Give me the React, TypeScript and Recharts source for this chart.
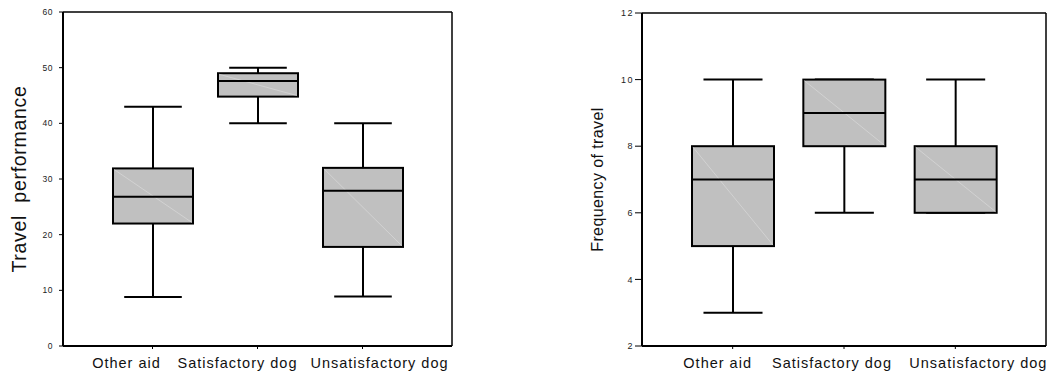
import React from 'react';
import { ComposedChart, Bar, XAxis, YAxis, CartesianGrid } from 'recharts';

const categories = ['Other aid', 'Satisfactory dog', 'Unsatisfactory dog'];

// Travel performance (left panel)
const perfMin = [8.8, 40, 8.9];
const perfQ1 = [22, 44.8, 17.8];
const perfMedian = [26.8, 47.6, 27.9];
const perfQ3 = [31.9, 49, 32];
const perfMax = [43, 50, 40];
const perfTicks = [0, 10, 20, 30, 40, 50, 60];

// Frequency of travel (right panel)
const freqMin = [3, 6, 6];
const freqQ1 = [5, 8, 6];
const freqMedian = [7, 9, 7];
const freqQ3 = [8, 10, 8];
const freqMax = [10, 10, 10];
const freqTicks = [2, 4, 6, 8, 10, 12];

const FONT = 'Arial, "Liberation Sans", sans-serif';

const buildRows = (mins: number[], q1s: number[], meds: number[], q3s: number[], maxs: number[]) =>
  categories.map((name, i) => ({ name, min: mins[i], q1: q1s[i], median: meds[i], q3: q3s[i], max: maxs[i] }));

const BoxShape = (props: any) => {
  const { x, y, width, height, payload } = props;
  const top = Math.min(y, y + height);
  const bottom = Math.max(y, y + height);
  const span = payload.max - payload.min;
  // map a value onto the bar's pixel range (bar spans min..max)
  const toY = (v: number) => (span === 0 ? top : bottom - ((v - payload.min) / span) * (bottom - top));
  const cx = x + width / 2;
  const capHalf = width * 0.36;
  const yQ1 = toY(payload.q1);
  const yQ3 = toY(payload.q3);
  const yMed = toY(payload.median);
  const sw = 2;
  return (
    <g>
      {/* whiskers */}
      {payload.max > payload.q3 && <line x1={cx} x2={cx} y1={top} y2={yQ3} stroke="#000" strokeWidth={sw} />}
      {payload.min < payload.q1 && <line x1={cx} x2={cx} y1={yQ1} y2={bottom} stroke="#000" strokeWidth={sw} />}
      <line x1={cx - capHalf} x2={cx + capHalf} y1={top} y2={top} stroke="#000" strokeWidth={sw} />
      <line x1={cx - capHalf} x2={cx + capHalf} y1={bottom} y2={bottom} stroke="#000" strokeWidth={sw} />
      {/* box */}
      <rect x={x} y={yQ3} width={width} height={yQ1 - yQ3} fill="#c0c0c0" stroke="#000" strokeWidth={sw} />
      <line x1={x + 1} y1={yQ3 + 1} x2={x + width - 1} y2={yQ1 - 1} stroke="#dedede" strokeWidth={0.6} />
      <line x1={x} x2={x + width} y1={yMed} y2={yMed} stroke="#000" strokeWidth={sw} />
    </g>
  );
};

const makeCatTick = (shifts: number[]) => (props: any) => {
  const { x, y, payload, index } = props;
  return (
    <text
      x={x + shifts[index]}
      y={y + 17}
      textAnchor="middle"
      fontFamily={FONT}
      fontSize={14.5}
      letterSpacing={1}
      fill="#111"
    >
      {payload.value}
    </text>
  );
};

const yLabel = (text: string, cx: number, size: number, spacing: number) => (props: any) => {
  const vb = props.viewBox;
  const cy = vb.y + vb.height / 2;
  return (
    <text
      x={cx}
      y={cy}
      transform={`rotate(-90 ${cx} ${cy})`}
      textAnchor="middle"
      dominantBaseline="central"
      fontFamily={FONT}
      fontSize={size}
      letterSpacing={spacing}
      fill="#111"
      style={{ whiteSpace: 'pre' }}
    >
      {text}
    </text>
  );
};

// frame lines on the top and right edge of the plot area
const topEdge = ({ offset }: any) => [offset.top];
const rightEdge = ({ offset }: any) => [offset.left + offset.width];

type PanelProps = {
  rows: any[];
  width: number;
  left: number;
  domain: [number, number];
  ticks: number[];
  margin: { top: number; right: number; left: number; bottom: number };
  yWidth: number;
  tickSize: number;
  tickMargin: number;
  tickFont: number;
  tickSpacing: number;
  padding: number;
  barSize: number;
  label: string;
  labelX: number;
  labelSize: number;
  labelSpacing: number;
  shifts: number[];
};

const Panel = (p: PanelProps) => (
  <div style={{ position: 'absolute', left: p.left, top: 0 }}>
    <ComposedChart width={p.width} height={383} data={p.rows} margin={p.margin}>
      <CartesianGrid
        stroke="#000"
        strokeWidth={1.5}
        horizontalCoordinatesGenerator={topEdge}
        verticalCoordinatesGenerator={rightEdge}
      />
      <XAxis
        dataKey="name"
        height={37}
        padding={{ left: p.padding, right: p.padding }}
        axisLine={{ stroke: '#000', strokeWidth: 2 }}
        tickLine={{ stroke: '#000', strokeWidth: 1 }}
        tickSize={3}
        tickMargin={2}
        interval={0}
        tick={makeCatTick(p.shifts)}
      />
      <YAxis
        domain={p.domain}
        ticks={p.ticks}
        width={p.yWidth}
        interval={0}
        axisLine={{ stroke: '#000', strokeWidth: 2 }}
        tickLine={{ stroke: '#000', strokeWidth: 1 }}
        tickSize={p.tickSize}
        tickMargin={p.tickMargin}
        tick={{ fontSize: p.tickFont, fontFamily: FONT, fill: '#222', letterSpacing: p.tickSpacing }}
        label={{ content: yLabel(p.label, p.labelX, p.labelSize, p.labelSpacing) }}
      />
      <Bar
        dataKey={(d: any) => [d.min, d.max]}
        barSize={p.barSize}
        shape={BoxShape}
        isAnimationActive={false}
      />
    </ComposedChart>
  </div>
);

export default function App() {
  const perfRows = buildRows(perfMin, perfQ1, perfMedian, perfQ3, perfMax);
  const freqRows = buildRows(freqMin, freqQ1, freqMedian, freqQ3, freqMax);
  return (
    <div style={{ position: 'absolute', left: 0, top: 0, width: 1055, height: 383, background: '#fff' }}>
      <Panel
        rows={perfRows}
        width={460}
        left={0}
        domain={[0, 60]}
        ticks={perfTicks}
        margin={{ top: 12, right: 8, left: 0, bottom: 0 }}
        yWidth={63}
        tickSize={4}
        tickMargin={6}
        tickFont={8.5}
        tickSpacing={0.5}
        padding={37}
        barSize={80}
        label="Travel  performance"
        labelX={19}
        labelSize={19.5}
        labelSpacing={0.7}
        shifts={[-26, -20, 17]}
      />
      <Panel
        rows={freqRows}
        width={475}
        left={580}
        domain={[2, 12]}
        ticks={freqTicks}
        margin={{ top: 13, right: 9, left: 0, bottom: 0 }}
        yWidth={62}
        tickSize={7}
        tickMargin={1}
        tickFont={9}
        tickSpacing={1.5}
        padding={35}
        barSize={82}
        label="Frequency of travel"
        labelX={17.5}
        labelSize={16}
        labelSpacing={0.4}
        shifts={[-15, -12, 23]}
      />
    </div>
  );
}
